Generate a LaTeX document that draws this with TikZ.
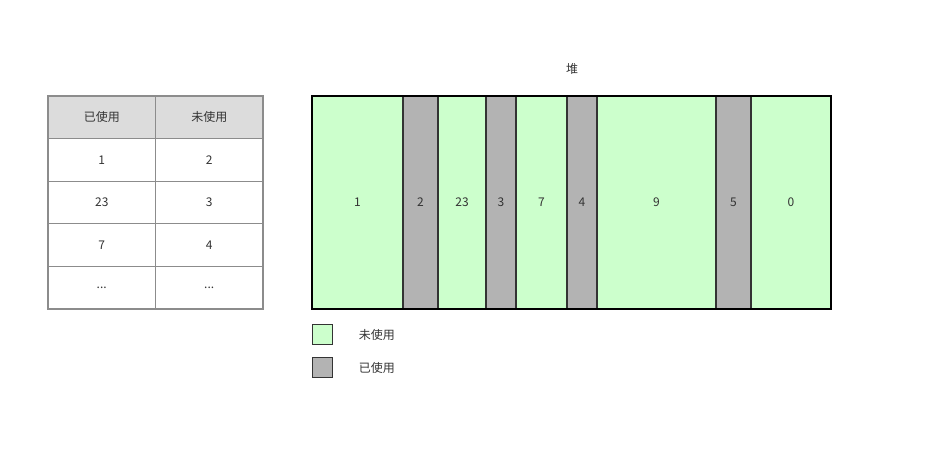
\documentclass[tikz,border=0pt]{standalone}
\usepackage{fontspec}
\setmainfont{Noto Sans CJK SC}
\usetikzlibrary{positioning}
\definecolor{freegreen}{HTML}{CCFFCC}
\definecolor{usedgray}{HTML}{B3B3B3}
\definecolor{headgray}{HTML}{DCDCDC}
\definecolor{txtgray}{HTML}{333333}
\definecolor{gridgray}{HTML}{8C8C8C}
\tikzset{
  every node/.style={font=\fontsize{12}{14}\selectfont, text=txtgray},
  block/.style={draw=txtgray, line width=1.3pt, anchor=north west, inner sep=0pt, outer sep=0pt, minimum height=213pt},
  freeblock/.style={block, fill=freegreen},
  usedblock/.style={block, fill=usedgray},
  cell/.style={draw=gridgray, line width=0.8pt, anchor=north west, inner sep=0pt, outer sep=0pt, minimum width=107.5pt, minimum height=42.6pt},
  headcell/.style={cell, fill=headgray},
  legendbox/.style={draw=txtgray, line width=1.3pt, anchor=north west, inner sep=0pt, minimum size=20pt}
}
\begin{document}
\begin{tikzpicture}[x=1pt, y=-1pt]
\useasboundingbox (0,0) rectangle (938,449);

% Table
\node[headcell] (used head) at (48,96) {已使用};
\node[headcell] (free head) at (155.5,96) {未使用};
\node[cell] (used a) at (48,138.6) {1};
\node[cell] (free a) at (155.5,138.6) {2};
\node[cell] (used b) at (48,181.2) {23};
\node[cell] (free b) at (155.5,181.2) {3};
\node[cell] (used c) at (48,223.8) {7};
\node[cell] (free c) at (155.5,223.8) {4};
\node[cell, text depth=-4pt] (used d) at (48,266.4) {...};
\node[cell, text depth=-4pt] (free d) at (155.5,266.4) {...};
\draw[gridgray, line width=1.5pt] (48,96) rectangle (263,309);

% Heap
\node (heap title) at (572,69) {堆};
\node[freeblock, minimum width=91pt] (h1) at (312,96) {1};
\node[usedblock, minimum width=35pt] (h2) at (403,96) {2};
\node[freeblock, minimum width=48pt] (h3) at (438,96) {23};
\node[usedblock, minimum width=30pt] (h4) at (486,96) {3};
\node[freeblock, minimum width=51pt] (h5) at (516,96) {7};
\node[usedblock, minimum width=30pt] (h6) at (567,96) {4};
\node[freeblock, minimum width=119pt] (h7) at (597,96) {9};
\node[usedblock, minimum width=35pt] (h8) at (716,96) {5};
\node[freeblock, minimum width=80pt] (h9) at (751,96) {0};
\draw[black, line width=1.8pt] (h1.north west) rectangle (h9.south east);

% Legend
\node[legendbox, fill=freegreen] (free key) at (312,324) {};
\node[right=22pt of free key] (free label) {未使用};
\node[legendbox, fill=usedgray] (used key) at (312,357) {};
\node[right=22pt of used key] (used label) {已使用};

\end{tikzpicture}
\end{document}
